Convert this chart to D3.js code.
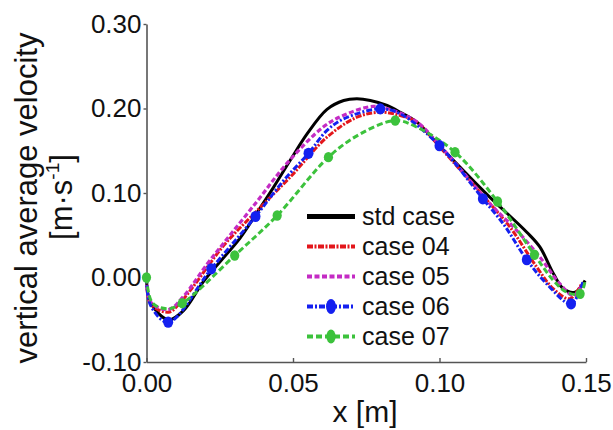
<!DOCTYPE html>
<html>
<head>
<meta charset="utf-8">
<script src="https://cdn.jsdelivr.net/npm/d3@7"></script>
<style>
  html, body { margin: 0; padding: 0; background: #fff; }
  svg { display: block; font-family: "Liberation Sans", Arial, sans-serif; }
</style>
</head>
<body>
<svg id="chart" width="613" height="430"></svg>
<script>
// ---- data (x in m, vertical average velocity in m/s) ----
const seriesNames = ["std case", "case 04", "case 05", "case 06", "case 07"];

const stdX = [0, 0.0014, 0.0075, 0.0127, 0.0196, 0.032, 0.0372, 0.0434, 0.0491, 0.0548, 0.0616, 0.0673, 0.0718, 0.0764, 0.0821, 0.0866, 0.0923, 0.1002, 0.1160, 0.1298, 0.1343, 0.1389, 0.1423, 0.1463, 0.1497];
const stdV = [0, -0.030, -0.050, -0.039, -0.004, 0.047, 0.074, 0.107, 0.139, 0.170, 0.199, 0.2095, 0.2115, 0.2095, 0.2036, 0.1956, 0.1838, 0.155, 0.099, 0.0536, 0.0359, 0.0044, -0.0134, -0.0174, -0.0036];

const c04X = [0, 0.0014, 0.0075, 0.0122, 0.0264, 0.0377, 0.0491, 0.0616, 0.0718, 0.0798, 0.0866, 0.0923, 0.1002, 0.1173, 0.1241, 0.1332, 0.1389, 0.1445, 0.1485];
const c04V = [0, -0.031, -0.041, -0.027, 0.038, 0.079, 0.119, 0.166, 0.1897, 0.1956, 0.1917, 0.1838, 0.154, 0.0872, 0.0595, 0.0122, -0.0134, -0.0252, -0.0075];

const c05X = [0, 0.0014, 0.0075, 0.0127, 0.0207, 0.0264, 0.0377, 0.0479, 0.0603, 0.0673, 0.0774, 0.0843, 0.0923, 0.1002, 0.1184, 0.1252, 0.1343, 0.1411, 0.1457, 0.1490];
const c05V = [0, -0.029, -0.038, -0.022, 0.016, 0.041, 0.090, 0.135, 0.178, 0.192, 0.2025, 0.1976, 0.184, 0.156, 0.083, 0.060, 0.024, -0.0075, -0.0213, -0.006];

const c06X = [0, 0.0014, 0.0074, 0.0221, 0.0372, 0.0468, 0.0553, 0.0616, 0.0673, 0.0798, 0.0866, 0.1000, 0.1148, 0.1218, 0.1298, 0.1366, 0.1449, 0.1491];
const c06V = [0, -0.033, -0.0529, 0.0103, 0.0722, 0.1148, 0.147, 0.174, 0.1878, 0.1996, 0.1937, 0.156, 0.0931, 0.0634, 0.021, -0.0075, -0.0311, -0.0036];
const c06MarkX = [0.0074, 0.0221, 0.0372, 0.0553, 0.0798, 0.1000, 0.1148, 0.1298, 0.1449];
const c06MarkV = [-0.0529, 0.0103, 0.0722, 0.147, 0.1996, 0.156, 0.0931, 0.021, -0.0311];

const c07X = [0, 0.0020, 0.0070, 0.0122, 0.0301, 0.0446, 0.0621, 0.0730, 0.0849, 0.0923, 0.1053, 0.1198, 0.1324, 0.1389, 0.1434, 0.1480, 0.1497];
const c07V = [0, -0.030, -0.037, -0.0304, 0.026, 0.0734, 0.1424, 0.170, 0.1858, 0.1779, 0.1483, 0.0899, 0.0269, -0.0036, -0.0174, -0.0193, -0.004];
const c07MarkX = [0, 0.0122, 0.0301, 0.0446, 0.0621, 0.0849, 0.1053, 0.1198, 0.1324, 0.1480];
const c07MarkV = [0, -0.0304, 0.026, 0.0734, 0.1424, 0.1858, 0.1483, 0.0899, 0.0269, -0.0193];

const xTickValues = [0, 0.05, 0.10, 0.15];
const xTickLabels = ["0.00", "0.05", "0.10", "0.15"];
const yTickValues = [-0.1, 0, 0.1, 0.2, 0.3];
const yTickLabels = ["-0.10", "0.00", "0.10", "0.20", "0.30"];

// ---- chart ----
const svg = d3.select("#chart");
const x = d3.scaleLinear().domain([0, 0.15]).range([146.5, 586]);
const y = d3.scaleLinear().domain([-0.1, 0.3]).range([362, 24]);

const styles = [
  { color: "#000000", width: 3, dash: null, marker: false, legendWidth: 5 },
  { color: "#e3161b", width: 3, dash: "6,1.5,2,1.5", marker: false, legendWidth: 4 },
  { color: "#c42bc4", width: 3.2, dash: "5,2.5", marker: false, legendWidth: 4 },
  { color: "#1420f0", width: 3, dash: "6,2,2,2", marker: true, r: 5, legendWidth: 4 },
  { color: "#3cc23c", width: 3, dash: "6,3", marker: true, r: 4.6, legendWidth: 4 }
];
const xsAll = [stdX, c04X, c05X, c06X, c07X];
const vsAll = [stdV, c04V, c05V, c06V, c07V];
const marksAll = [null, null, null, [c06MarkX, c06MarkV], [c07MarkX, c07MarkV]];

// axes
const axisColor = "#555";
const gx = svg.append("g").attr("transform", "translate(0,362)")
  .call(d3.axisBottom(x).tickValues(xTickValues).tickFormat((d, i) => xTickLabels[i])
    .tickSizeInner(-4).tickSizeOuter(0).tickPadding(12));
const gy = svg.append("g").attr("transform", "translate(146.5,0)")
  .call(d3.axisLeft(y).tickValues(yTickValues).tickFormat((d, i) => yTickLabels[i])
    .tickSizeInner(3).tickSizeOuter(0).tickPadding(2));
[gx, gy].forEach(g => {
  g.select(".domain").attr("stroke", axisColor).attr("stroke-width", 1.6);
  g.selectAll(".tick line").attr("stroke", axisColor).attr("stroke-width", 1.4);
  g.selectAll(".tick text").attr("font-size", 26).attr("fill", "#111")
    .attr("font-family", "'Liberation Sans', Arial, sans-serif");
});

// lines
const line = d3.line().x(d => x(d[0])).y(d => y(d[1])).curve(d3.curveCatmullRom.alpha(0.5));
xsAll.forEach((xs, i) => {
  const st = styles[i];
  const pts = xs.map((xv, j) => [xv, vsAll[i][j]]);
  svg.append("path").datum(pts)
    .attr("d", line).attr("fill", "none")
    .attr("stroke", st.color).attr("stroke-width", st.width)
    .attr("stroke-dasharray", st.dash)
    .attr("stroke-linejoin", "round");
});
marksAll.forEach((m, i) => {
  if (!m) return;
  const st = styles[i];
  const pts = m[0].map((xv, j) => [xv, m[1][j]]);
  svg.append("g").selectAll("ellipse").data(pts).join("ellipse")
    .attr("cx", d => x(d[0])).attr("cy", d => y(d[1]))
    .attr("rx", st.r).attr("ry", st.r + 0.6)
    .attr("fill", st.color);
});

// legend
const lg = svg.append("g");
lg.append("rect").attr("x", 300).attr("y", 200).attr("width", 172).attr("height", 152).attr("fill", "#fff");
seriesNames.forEach((name, i) => {
  const st = styles[i];
  const cy = 216.5 + i * 30;
  lg.append("line").attr("x1", 307).attr("x2", 355).attr("y1", cy).attr("y2", cy)
    .attr("stroke", st.color).attr("stroke-width", st.legendWidth).attr("stroke-dasharray", st.dash);
  if (st.marker) {
    lg.append("ellipse").attr("cx", 331).attr("cy", cy).attr("rx", st.r).attr("ry", st.r + 2.5).attr("fill", st.color);
  }
  lg.append("text").attr("x", 362).attr("y", cy).attr("dy", "0.35em")
    .attr("font-size", 25).attr("fill", "#111").text(name);
});

// axis titles
svg.append("text").attr("transform", "translate(365,422)").attr("text-anchor", "middle")
  .attr("font-size", 30).attr("fill", "#111").text("x [m]");
svg.append("text").attr("transform", "translate(37,198) rotate(-90)").attr("text-anchor", "middle")
  .attr("font-size", 31).attr("fill", "#111").text("vertical average velocity");
const t2 = svg.append("text").attr("transform", "translate(72,197) rotate(-90)").attr("text-anchor", "middle")
  .attr("font-size", 31).attr("fill", "#111");
t2.append("tspan").text("[m·s");
t2.append("tspan").attr("font-size", 19).attr("dy", -13).text("-1");
t2.append("tspan").attr("dy", 13).text("]");
</script>
</body>
</html>
